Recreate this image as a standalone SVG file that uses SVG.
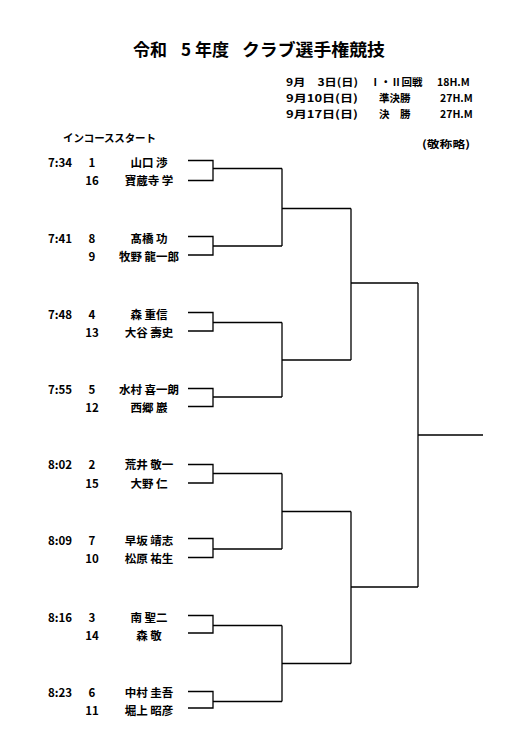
<svg xmlns="http://www.w3.org/2000/svg" width="518" height="745" viewBox="0 0 518 745">
<style>
text{font-family:"Noto Sans CJK JP","Noto Sans",sans-serif;font-weight:700;fill:#000}
.t{font-size:17px}
.s{font-size:10.5px}
.r{font-size:11.5px}
.n{font-size:11.5px;text-anchor:middle}
.c{text-anchor:middle}
.ln{fill:none;stroke:#000;stroke-width:1.3}
</style>
<rect width="518" height="745" fill="#fff"/>
<g id="header">
<text class="t" x="133" y="56">令和</text>
<text class="t" x="181" y="56">5</text>
<text class="t" x="195" y="56">年度</text>
<text class="t" x="242" y="56" textLength="143" lengthAdjust="spacingAndGlyphs">クラブ選手権競技</text>
<text class="s" x="286" y="85.5" textLength="72" lengthAdjust="spacingAndGlyphs">9月　3日(日)</text>
<text class="s" x="370" y="85.5">Ⅰ・Ⅱ回戦</text>
<text class="s" x="437" y="85.5">18H.M</text>
<text class="s" x="286" y="101.5" textLength="72" lengthAdjust="spacingAndGlyphs">9月10日(日)</text>
<text class="s" x="379" y="101.5">準決勝</text>
<text class="s" x="440" y="101.5">27H.M</text>
<text class="s" x="286" y="118" textLength="72" lengthAdjust="spacingAndGlyphs">9月17日(日)</text>
<text class="s" x="379" y="118">決　勝</text>
<text class="s" x="440" y="118">27H.M</text>
<text class="s" x="422" y="148" textLength="48" lengthAdjust="spacingAndGlyphs">(敬称略)</text>
<text class="s" x="63" y="142" textLength="93">インコーススタート</text>
</g>
<g id="m1">
<text class="r" x="48" y="166.5">7:34</text><text class="r c" x="92" y="166.5">1</text><text class="n" x="149" y="166.5">山口 渉</text>
<text class="r c" x="92" y="185">16</text><text class="n" x="149" y="185">寶蔵寺 学</text>
</g>
<g id="m2">
<text class="r" x="48" y="243">7:41</text><text class="r c" x="92" y="243">8</text><text class="n" x="149" y="243">髙橋 功</text>
<text class="r c" x="92" y="261">9</text><text class="n" x="149" y="261">牧野 龍一郎</text>
</g>
<g id="m3">
<text class="r" x="48" y="318.5">7:48</text><text class="r c" x="92" y="318.5">4</text><text class="n" x="149" y="318.5">森 重信</text>
<text class="r c" x="92" y="336.5">13</text><text class="n" x="149" y="336.5">大谷 壽史</text>
</g>
<g id="m4">
<text class="r" x="48" y="393.5">7:55</text><text class="r c" x="92" y="393.5">5</text><text class="n" x="149" y="393.5">水村 喜一朗</text>
<text class="r c" x="92" y="411.5">12</text><text class="n" x="149" y="411.5">西郷 巖</text>
</g>
<g id="m5">
<text class="r" x="48" y="469">8:02</text><text class="r c" x="92" y="469">2</text><text class="n" x="149" y="469">荒井 敬一</text>
<text class="r c" x="92" y="488">15</text><text class="n" x="149" y="488">大野 仁</text>
</g>
<g id="m6">
<text class="r" x="48" y="545">8:09</text><text class="r c" x="92" y="545">7</text><text class="n" x="149" y="545">早坂 靖志</text>
<text class="r c" x="92" y="563">10</text><text class="n" x="149" y="563">松原 祐生</text>
</g>
<g id="m7">
<text class="r" x="48" y="621.5">8:16</text><text class="r c" x="92" y="621.5">3</text><text class="n" x="149" y="621.5">南 聖二</text>
<text class="r c" x="92" y="640">14</text><text class="n" x="149" y="640">森 敬</text>
</g>
<g id="m8">
<text class="r" x="48" y="697">8:23</text><text class="r c" x="92" y="697">6</text><text class="n" x="149" y="697">中村 圭吾</text>
<text class="r c" x="92" y="715">11</text><text class="n" x="149" y="715">堀上 昭彦</text>
</g>
<g id="connectors" class="ln">
<path d="M188 160.5H213V180.5H188M213 168.5H282"/>
<path d="M188 236.5H213V255H188M213 246H282"/>
<path d="M188 312.5H213V331H188M213 322.5H282"/>
<path d="M188 388.5H213V406.5H188M213 397H282"/>
<path d="M188 464.5H213V483H188M213 473.5H282"/>
<path d="M188 538.5H213V557.5H188M213 549H282"/>
<path d="M188 615.5H213V633H188M213 625.5H282"/>
<path d="M188 691.5H213V708H188M213 701.5H282"/>
<path d="M282 168.5V246M282 208.5H351"/>
<path d="M282 322.5V397M282 360H351"/>
<path d="M282 473.5V549M282 511.5H351"/>
<path d="M282 625.5V701.5M282 663.5H351"/>
<path d="M351 208.5V360M351 283H418"/>
<path d="M351 511.5V663.5M351 587H418"/>
<path d="M418 283V587M418 435H483"/>
</g>
</svg>
